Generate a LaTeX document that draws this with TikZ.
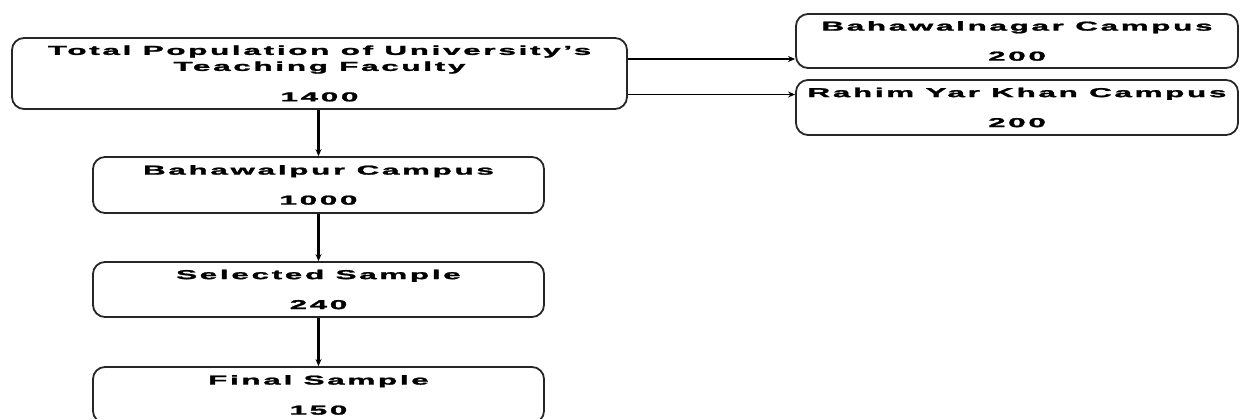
\documentclass[tikz,border=0pt]{standalone}
\usepackage{fontspec}
\setmainfont{Liberation Sans}[LetterSpace=9, FakeBold=1.5]
\usetikzlibrary{arrows.meta, positioning, calc}
\newcommand{\wide}[1]{\scalebox{2.4}[1]{#1}}

\begin{document}
\begin{tikzpicture}[x=1pt, y=1pt, >={Stealth[length=7pt, width=6pt]},
  box/.style={draw=black!85, line width=1.8pt, rounded corners=12pt, align=center,
    inner sep=0pt, font=\bfseries\fontsize{13}{16}\selectfont},
  mainbox/.style={box, minimum width=451pt, minimum height=56pt},
  sidebox/.style={box, minimum width=442pt, minimum height=54pt},
  flow/.style={->, line width=2.4pt},
  branch/.style={->, line width=1.3pt}]
  \useasboundingbox (0,0) rectangle (1240,418);

  % Total population
  \node[box, minimum width=615pt, minimum height=71pt] (total) at (319.5,344.5)
    {\wide{Total Population of University’s}\\\wide{Teaching Faculty}\\[14.5pt]\wide{1400}};

  % Other campuses
  \node[sidebox] (bwn) at (1017,377) {\wide{Bahawalnagar Campus}\\[14pt]\wide{200}};
  \node[sidebox, minimum height=55pt] (ryk) at (1017,310.5) {\wide{Rahim Yar Khan Campus}\\[14pt]\wide{200}};

  % Main campus and samples
  \node[mainbox] (bwp) at (318.5,233) {\wide{Bahawalpur Campus}\\[14pt]\wide{1000}};
  \node[mainbox, minimum height=55pt] (sel) at (318.5,128.5) {\wide{Selected Sample}\\[14pt]\wide{240}};
  \node[mainbox] (fin) at (318.5,23) {\wide{Final Sample}\\[14pt]\wide{150}};

  % Arrows
  \coordinate (t1) at ([yshift=14.5pt]total.east);
  \coordinate (t2) at ([yshift=-21pt]total.east);
  \draw[branch] (t1) -- (t1 -| bwn.west);
  \draw[branch] (t2) -- (t2 -| ryk.west);
  \draw[flow] (total.south -| bwp.north) -- (bwp.north);
  \draw[flow] (bwp) -- (sel);
  \draw[flow] (sel) -- (fin);
\end{tikzpicture}
\end{document}
